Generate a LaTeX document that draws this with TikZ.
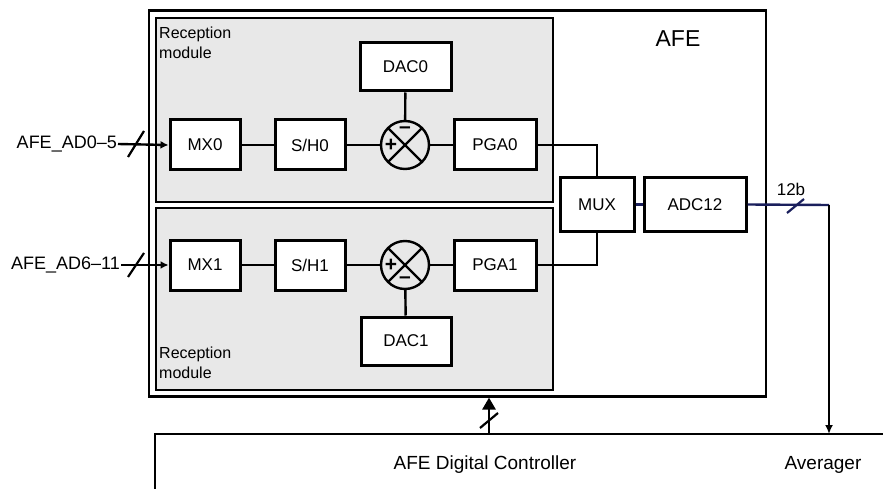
\documentclass[tikz,border=0pt]{standalone}
\usepackage{fontspec}
\setmainfont{Liberation Sans}
\usepackage{xcolor}
\usepackage{tikz}
\usetikzlibrary{arrows.meta,positioning,calc}
\definecolor{AfeGray}{HTML}{E8E8E8}
\definecolor{AfeNavy}{HTML}{1A1F5C}

\begin{document}
\begin{tikzpicture}[x=1pt,y=-1pt,font=\fontsize{17}{20}\selectfont,
    blk/.style={draw,fill=white,line width=3pt,minimum height=50pt,inner sep=0pt},
    rxmod/.style={draw,fill=AfeGray,line width=2.2pt,minimum width=397pt,inner sep=0pt},
    rxtxt/.style={align=left,inner sep=0pt,font=\fontsize{16}{20}\selectfont},
    sumc/.style={draw,circle,line width=2.4pt,minimum size=48pt,inner sep=0pt,
      path picture={\draw[line width=2.4pt]
        (path picture bounding box.north west)--(path picture bounding box.south east)
        (path picture bounding box.north east)--(path picture bounding box.south west);}},
    sgn/.style={font=\fontsize{21}{21}\selectfont\bfseries,inner sep=0pt},
    wire/.style={line width=2.4pt},
    tick/.style={line width=2.2pt}]
  \useasboundingbox (0,0) rectangle (883,489);
  % AFE and the two reception modules
  \node[draw,line width=2.2pt,minimum width=617pt,minimum height=386pt] (afe) at (457.5,203.5) {};
  \node[rxmod,minimum height=184pt] (rxa) at (354.5,110) {};
  \node[rxmod,minimum height=182pt] (rxb) at (354.5,299) {};
  \node[font=\fontsize{23}{26}\selectfont] (afet) at (678,39) {AFE};
  \node[rxtxt,anchor=north west] (rxat) at (159,27) {Reception\\module};
  \node[rxtxt,anchor=south west] (rxbt) at (159,379) {Reception\\module};
  % channel 0
  \node[blk,minimum width=70pt] (mx0) at (205,145) {MX0};
  \node[blk,minimum width=70pt] (sh0) at (310,145) {S/H0};
  \node[sumc] (sum0) at (405,145) {};
  \node[sgn] (sum0m) at (405,130) {–};
  \node[sgn] (sum0p) at (391,145) {+};
  \node[blk,minimum width=82pt] (pga0) at (495,145) {PGA0};
  \node[blk,minimum width=91pt,minimum height=48pt] (dac0) at (405.5,67) {DAC0};
  % channel 1
  \node[blk,minimum width=70pt] (mx1) at (205,265) {MX1};
  \node[blk,minimum width=70pt] (sh1) at (310,265) {S/H1};
  \node[sumc] (sum1) at (405,265) {};
  \node[sgn] (sum1p) at (391,265) {+};
  \node[sgn] (sum1m) at (405,280) {–};
  \node[blk,minimum width=82pt] (pga1) at (495,265) {PGA1};
  \node[blk,minimum width=90pt,minimum height=48pt] (dac1) at (406,341) {DAC1};
  % mux and converter
  \node[blk,minimum width=74pt,minimum height=53pt] (mux) at (597,204.5) {MUX};
  \node[blk,minimum width=102pt,minimum height=53pt] (adc) at (695,204.5) {ADC12};
  % inputs
  \node[anchor=east,inner sep=1pt,font=\fontsize{18}{20}\selectfont] (in0) at (118,144) {AFE\_AD0–5};
  \node[anchor=east,inner sep=1pt,font=\fontsize{18}{20}\selectfont] (in1) at (121,265) {AFE\_AD6–11};
  \draw[wire,-{Latex[length=8pt,width=8pt]}] (in0.east) -- (mx0.west);
  \draw[wire,-{Latex[length=8pt,width=8pt]}] (in1.east) -- (mx1.west);
  \draw[tick] (128,157) -- (144,131);
  \draw[tick] (128,277) -- (144,253);
  % signal chain
  \draw[wire] (mx0) -- (sh0) -- (sum0) -- (pga0);
  \draw[wire] (mx1) -- (sh1) -- (sum1) -- (pga1);
  \draw[wire] (dac0) -- (sum0);
  \draw[wire] (dac1) -- (sum1);
  \draw[wire] (pga0.east) -| (mux.north);
  \draw[wire] (pga1.east) -| (mux.south);
  \draw[wire,AfeNavy] (mux) -- (adc);
  % digital controller
  \draw[line width=2.2pt] (884,434) -- (155,434) -- (155,490);
  \node[font=\fontsize{19}{22}\selectfont] (ctrl) at (485,465) {AFE Digital Controller};
  \node[font=\fontsize{19}{22}\selectfont] (avg) at (823,465) {Averager};
  \coordinate (corner) at (829,205);
  \coordinate (avgin) at (829,434);
  \coordinate (ctlout) at (489,434);
  \draw[wire,AfeNavy] (adc.east) -- (corner);
  \draw[wire,-{Latex[length=9pt,width=8pt]}] (corner) -- (avgin);
  \node (bits) at (791,189) {12b};
  \draw[tick,AfeNavy] (787,213) -- (804,199);
  \draw[line width=2.8pt,-{Triangle[length=12pt,width=13pt]}] (ctlout) -- (ctlout |- afe.south);
  \draw[tick] (480,428) -- (498,413);
\end{tikzpicture}
\end{document}
